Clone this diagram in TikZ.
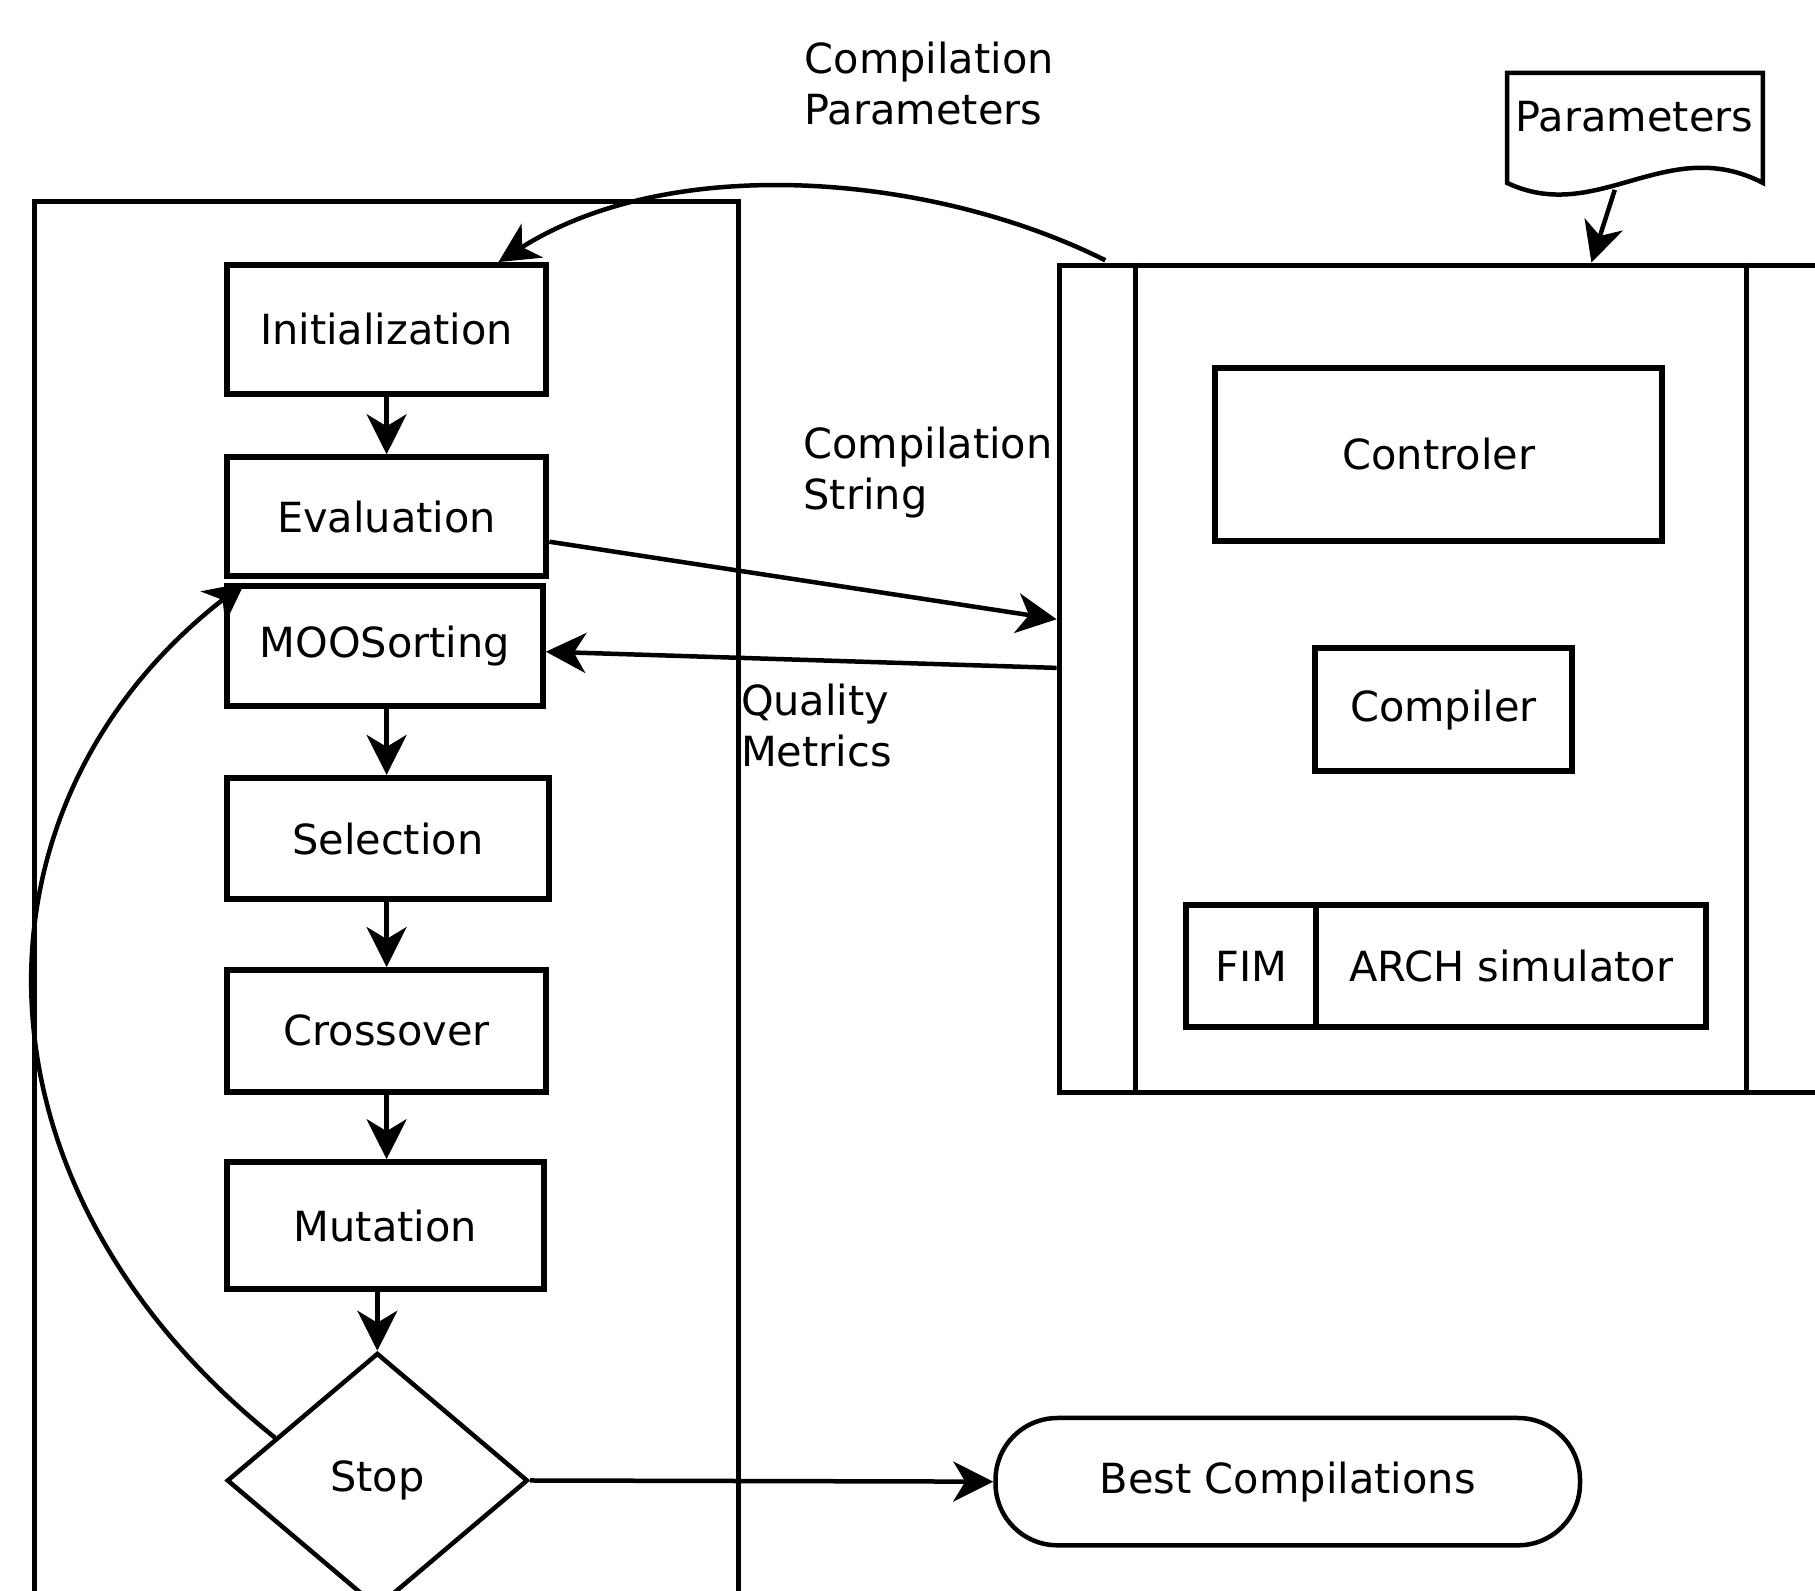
\documentclass[tikz,border=0pt]{standalone}
\usepackage{fontspec}
\setmainfont{DejaVu Sans}
\usetikzlibrary{arrows.meta,fit,calc,shapes.geometric}
\begin{document}
\begin{tikzpicture}[x=1.1575pt,y=-1.1575pt,
  txt/.style={font=\fontsize{41.5}{51}\selectfont},
  box/.style={draw,line width=6pt,inner sep=0pt,txt},
  lbl/.style={inner sep=0pt,align=left,anchor=north west,txt},
  conn/.style={line width=4.5pt,-{Stealth[length=40pt,width=40pt,inset=12pt]}},
  thin/.style={line width=4.5pt}]
\useasboundingbox (0,0) rectangle (1568,1374);
\clip (0,0) rectangle (1568,1374);

% left frame
\node[draw,thin,inner sep=0pt,fit={(30,174) (638,1430)}] (frame) {};

% flow boxes
\node[box,minimum width=319.5pt,minimum height=128.5pt] (init) at (334,284.5) {Initialization};
\node[box,minimum width=319.5pt,minimum height=119.2pt] (eval) at (334,446.5) {Evaluation};
\node[box,minimum width=316pt,minimum height=120.4pt] (moo) at (332.5,558) {MOOSorting};
\node[box,minimum width=321.8pt,minimum height=121.5pt] (sel) at (335,724.5) {Selection};
\node[box,minimum width=319.5pt,minimum height=121.5pt] (cross) at (334,890.5) {Crossover};
\node[box,minimum width=317.2pt,minimum height=127.3pt] (mut) at (333,1059) {Mutation};
\node[draw,diamond,thin,inner sep=0pt,minimum width=301pt,minimum height=255pt,txt] (stop) at (326,1279) {Stop};
\node[draw,thin,inner sep=0pt,rounded corners=62pt,minimum width=584.5pt,minimum height=127.3pt,txt] (best) at (1112.5,1280) {Best Compilations};

% right block
\node[draw,line width=5pt,inner sep=0pt,fit={(915,229) (1640,944)}] (rb) {};
\draw[thin] ($(rb.north west)+(68,0)$) -- ($(rb.south west)+(68,0)$);
\draw[thin] ($(rb.north west)+(596,0)$) -- ($(rb.south west)+(596,0)$);
\node[box,minimum width=446.8pt,minimum height=172.5pt] (ctrl) at (1243,392.5) {Controler};
\node[box,minimum width=257pt,minimum height=122.7pt] (comp) at (1247,613) {Compiler};
\node[box,minimum width=129.6pt,minimum height=121.5pt] (fim) at (1081,834.5) {FIM};
\node[box,minimum width=390.1pt,minimum height=121.5pt] (arch) at (1305.5,834.5) {ARCH simulator};

% parameters document
\draw[thin,line join=miter] (1302,158) -- (1302,63) -- (1523,63) -- (1523,158)
  .. controls (1440,115) and (1380,195) .. (1302,158) -- cycle;
\node[txt,inner sep=0pt] (params) at (1412,101) {Parameters};
\coordinate (pw) at (1395,164);

% labels
\node[lbl] (lcp) at (695,36) {Compilation\\Parameters};
\node[lbl] (lcs) at (694,369) {Compilation\\String};
\node[lbl] (lqm) at (640,591) {Quality\\Metrics};

% connectors
\draw[conn] (init.south) -- (init.south |- eval.north);
\draw[conn] (moo.south -| init.south) -- (init.south |- sel.north);
\draw[conn] (sel.south -| init.south) -- (init.south |- cross.north);
\draw[conn] (cross.south -| init.south) -- (init.south |- mut.north);
\draw[conn] (stop.north |- mut.south) -- (stop.north);
\draw[conn] (stop.east) -- (best.west);
\draw[conn] ($(eval.east)+(0,21.5)$) -- ($(rb.west)+(0,-51.5)$);
\draw[conn] ($(rb.west)+(0,-9.5)$) -- ($(moo.east)+(0,5)$);
\draw[conn] (pw) -- ($(rb.north west)+(462,0)$);
\draw[conn] ($(rb.north west)+(42,-2)$) .. controls +(-150,-75) and +(150,-95) .. ($(init.north east)+(-44,0)$);
\draw[conn] ($(stop.west)!0.33!(stop.north)$) .. controls +(-275,-220) and +(-245,190) .. ($(moo.north west)+(18,0)$);
\end{tikzpicture}
\end{document}
